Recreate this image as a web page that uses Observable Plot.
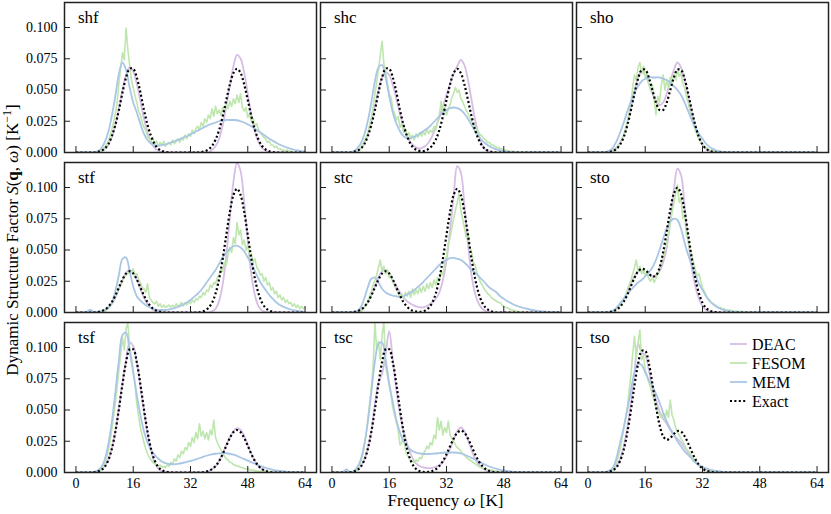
<!DOCTYPE html>
<html><head><meta charset="utf-8">
<script src="https://cdn.jsdelivr.net/npm/d3@7"></script>
<script src="https://cdn.jsdelivr.net/npm/@observablehq/plot@0.6"></script>
<style>body{margin:0;background:#fff}</style>
</head><body><div id="chart"></div>
<script>
// ---- categories / ticks ----
const panelNames = ["shf","shc","sho","stf","stc","sto","tsf","tsc","tso"];
const seriesNames = ["DEAC","FESOM","MEM","Exact"];
const xTicks = [0, 16, 32, 48, 64];
const yTicks = [0, 0.025, 0.05, 0.075, 0.1];
// smooth series: omega = 0..64 step 1 ; FESOM: omega = 0..64 step 0.5
const omegaCoarse = d3.range(0, 65, 1);
const omegaFine = d3.range(0, 129).map(i => i / 2);

// ---- shf ----
const exactShf = [0,0,0,0,0,0,.0005,.0012, .003,.0065,.013,.022,.034,.048,.060,.067, .067,.060,.048,.034,.022,.013,.0065,.003, .0012,.0005,0,0,0,0,0,0, 0,0,0,.0003,.001,.0024,.0052,.0103, .018,.029,.042,.0544,.0636,.067,.0636,.0544, .042,.029,.018,.0103,.0052,.0024,.001,.0003, 0,0,0,0,0,0,0,0, 0];
const deacShf = [0,0,0,0,0,0,0,.001, .0025,.006,.012,.022,.035,.050,.062,.068, .065,.055,.041,.027,.016,.008,.0036,.0014, .0005,0,0,0,0,0,0,0, 0,0,0,0,0,0,.002,.005, .011,.022,.037,.054,.069,.078,.075,.064, .047,.030,.017,.0084,.0036,.0014,.0005,0, 0,0,0,0,0,0,0,0, 0];
const memShf = [0,0,0,0,0,0,.001,.003, .008,.016,.029,.045,.063,.072,.066,.052, .040,.032,.023,.015,.010,.007,.006,.0055, .006,.0065,.0075,.0085,.0095,.0105,.012,.013, .0145,.016,.0175,.019,.0205,.022,.023,.024, .025,.0255,.026,.026,.026,.0258,.025,.024, .0225,.021,.019,.017,.015,.013,.011,.0093, .0077,.0062,.005,.0039,.003,.0022,.0016,.0011, .0008];
const fesomShf = [
0,0,0,0,0,0,0,0,
0,0,0,0,0,0,.001,.002,
.004,.006,.009,.013,.018,.024,.031,.040,
.055,.068,.080,.074,.0995,.082,.070,.058,
.052,.045,.040,.033,.030,.024,.020,.018,
.013,.011,.009,.012,.007,.009,.005,.008,
.006,.009,.005,.007,.008,.006,.010,.007,
.009,.011,.008,.012,.010,.014,.011,.015,
.013,.018,.015,.019,.021,.018,.024,.021,
.027,.024,.030,.027,.035,.029,.037,.031,
.034,.030,.036,.033,.038,.035,.041,.037,
.043,.039,.046,.040,.047,.036,.033,.036,
.028,.031,.025,.027,.021,.023,.018,.016,
.014,.012,.011,.008,.009,.006,.006,.004,
.005,.003,.003,.002,.002,.001,.002,.001,
.001,0,0,0,0,0,0,0,
0];

// ---- shc ----
const exactShc = [0,0,0,0,0,0,.0005,.0012, .003,.0065,.013,.022,.034,.048,.060,.067, .067,.060,.048,.034,.022,.013,.0066,.0032, .0016,.0012,.0014,.0029,.0055,.0103,.018,.029, .042,.0544,.0636,.067,.0636,.0544,.042,.029, .018,.0103,.0052,.0024,.001,.0003,0,0, 0,0,0,0,0,0,0,0, 0,0,0,0,0,0,0,0, 0];
const deacShc = [0,0,0,0,0,0,0,.001, .003,.007,.014,.024,.037,.050,.060,.064, .062,.054,.043,.031,.021,.013,.008,.005, .0035,.0035,.005,.008,.013,.020,.028,.037, .046,.055,.063,.069,.074,.070,.058,.042, .026,.014,.006,.002,.0005,0,0,0, 0,0,0,0,0,0,0,0, 0,0,0,0,0,0,0,0, 0];
const memShc = [0,0,0,0,0,0,.001,.003, .007,.014,.025,.040,.057,.068,.070,.060, .045,.032,.023,.017,.013,.0115,.0115,.0125, .014,.016,.018,.020,.023,.026,.029,.032, .034,.0355,.036,.0355,.034,.031,.027,.022, .017,.013,.0095,.007,.005,.0035,.0025,.0017, .0011,.0007,.0004,0,0,0,0,0, 0,0,0,0,0,0,0,0, 0];
const fesomShc = [
0,0,0,0,0,0,0,0,
0,0,0,0,0,0,.001,.002,
.003,.006,.009,.012,.016,.022,.028,.036,
.047,.056,.066,.078,.089,.071,.064,.055,
.047,.044,.035,.031,.026,.029,.020,.023,
.016,.019,.013,.016,.011,.014,.010,.015,
.012,.016,.013,.017,.014,.019,.015,.018,
.016,.021,.018,.024,.030,.041,.032,.036,
.030,.035,.038,.044,.047,.052,.048,.050,
.043,.041,.037,.034,.031,.028,.025,.022,
.021,.018,.016,.014,.013,.011,.010,.008,
.008,.006,.006,.005,.004,.004,.003,.003,
.002,.002,.0015,.001,.001,.001,.0008,0,
0,0,0,0,0,0,0,0,
0,0,0,0,0,0,0,0,
0,0,0,0,0,0,0,0,
0];

// ---- sho ----
const exactSho = [0,0,0,0,0,0,.0005,.0012, .0029,.0064,.0124,.0217,.0338,.0472,.059,.066, .0663,.060,.050,.040,.034,.034,.040,.050, .060,.0663,.066,.059,.0472,.0338,.0217,.0124, .0064,.0029,.0012,.0005,0,0,0,0, 0,0,0,0,0,0,0,0, 0,0,0,0,0,0,0,0, 0,0,0,0,0,0,0,0, 0];
const deacSho = [0,0,0,0,0,0,.001,.002, .004,.008,.014,.024,.036,.049,.060,.065, .062,.055,.047,.041,.038,.040,.047,.057, .066,.072,.068,.058,.045,.032,.021,.012, .006,.003,.0012,.0005,0,0,0,0, 0,0,0,0,0,0,0,0, 0,0,0,0,0,0,0,0, 0,0,0,0,0,0,0,0, 0];
const memSho = [0,0,0,0,0,.0005,.0015,.004, .009,.016,.024,.033,.041,.048,.053,.057, .059,.060,.060,.060,.060,.059,.058,.056, .053,.050,.046,.040,.033,.026,.020,.015, .011,.007,.0045,.0027,.0015,.0008,.0004,.0002, 0,0,0,0,0,0,0,0, 0,0,0,0,0,0,0,0, 0,0,0,0,0,0,0,0, 0];
const fesomSho = [
0,0,0,0,0,0,0,0,
0,0,0,0,0,0,.001,.002,
.003,.005,.007,.010,.014,.019,.025,.032,
.040,.052,.062,.058,.068,.072,.063,.069,
.060,.064,.055,.050,.054,.042,.030,.045,
.040,.054,.062,.050,.058,.052,.060,.055,
.063,.058,.066,.061,.064,.055,.052,.045,
.040,.033,.028,.022,.018,.014,.011,.009,
.007,.005,.004,.003,.002,.002,.0015,.001,
.001,.001,.0007,.0006,.0005,0,0,0,
0,0,0,0,0,0,0,0,
0,0,0,0,0,0,0,0,
0,0,0,0,0,0,0,0,
0,0,0,0,0,0,0,0,
0,0,0,0,0,0,0,0,
0,0,0,0,0,0,0,0,
0];

// ---- stf ----
const exactStf = [0,0,0,0,0,0,.0004,.001, .0022,.0045,.0082,.0136,.020,.0264,.0312,.033, .0312,.0264,.020,.0136,.0082,.0045,.0022,.001, .0004,0,0,0,0,0,0,0, 0,0,0,.0005,.0015,.0036,.0077,.0152, .027,.043,.062,.0804,.094,.099,.094,.0804, .062,.043,.027,.0152,.0077,.0036,.0015,.0005, 0,0,0,0,0,0,0,0, 0];
const deacStf = [0,0,0,0,0,0,0,.0005, .0014,.0034,.0069,.012,.019,.026,.032,.034, .032,.026,.019,.012,.0069,.0034,.0014,.0005, 0,0,0,0,0,0,0,0, 0,0,0,0,0,0,.0009,.003, .0093,.0227,.0456,.076,.1047,.1196,.113,.0883, .0572,.0307,.0136,.005,.0015,.0004,0,0, 0,0,0,0,0,0,0,0, 0];
const memStf = [0,0,0,.0005,.002,.0005,.0005,.001, .002,.004,.008,.017,.030,.043,.044,.033, .021,.013,.0095,.007,.005,.0035,.0025,.002, .002,.002,.0025,.003,.004,.005,.0065,.008, .010,.0125,.015,.018,.022,.026,.030,.034, .039,.044,.048,.051,.053,.0535,.052,.049, .044,.039,.033,.027,.022,.018,.014,.011, .008,.006,.0045,.0033,.0024,.0017,.0012,.0008, .0005];
const fesomStf = [
0,0,0,0,0,0,0,0,
0,0,0,0,0,0,0,0,
.001,.002,.003,.005,.007,.010,.013,.016,
.019,.022,.025,.028,.030,.031,.033,.032,
.035,.030,.031,.026,.024,.020,.019,.016,
.023,.012,.010,.008,.007,.009,.005,.007,
.004,.006,.004,.005,.006,.004,.006,.004,
.007,.005,.006,.008,.005,.008,.006,.009,
.007,.010,.008,.011,.010,.013,.012,.016,
.014,.018,.017,.022,.020,.024,.023,.028,
.030,.035,.033,.040,.038,.046,.052,.048,
.060,.055,.072,.062,.066,.054,.058,.050,
.054,.044,.047,.040,.043,.036,.034,.030,
.031,.025,.028,.022,.024,.018,.020,.015,
.017,.012,.014,.010,.012,.008,.010,.007,
.008,.005,.007,.004,.006,.003,.005,.003,
.004];

// ---- stc ----
const exactStc = [0,0,0,0,0,0,.0004,.001, .0022,.0045,.0082,.0136,.020,.0264,.0312,.033, .0312,.0264,.020,.0136,.0082,.0045,.0022,.001, .0006,.0006,.0015,.0036,.0077,.0152,.027,.043, .062,.0804,.094,.099,.094,.0804,.062,.043, .027,.0152,.0077,.0036,.0015,.0005,0,0, 0,0,0,0,0,0,0,0, 0,0,0,0,0,0,0,0, 0];
const deacStc = [0,0,0,0,0,0,.0005,.001, .002,.004,.008,.014,.021,.028,.033,.034, .031,.026,.021,.016,.012,.009,.007,.0055, .0045,.004,.0045,.006,.008,.011,.016,.026, .042,.066,.093,.117,.112,.086,.055,.030, .015,.007,.003,.001,.0004,0,0,0, 0,0,0,0,0,0,0,0, 0,0,0,0,0,0,0,0, 0];
const memStc = [0,0,0,0,0,0,0,.001, .004,.011,.020,.027,.028,.024,.019,.016, .0145,.0135,.013,.0125,.013,.0145,.016,.018, .0205,.023,.026,.029,.032,.035,.038,.0405, .042,.0435,.0437,.043,.042,.040,.037,.034, .032,.029,.026,.023,.020,.018,.016,.013, .011,.009,.0075,.006,.005,.004,.0033,.0026, .002,.0015,.0011,.0008,.0006,.0004,.0003,.0002, .0001];
const fesomStc = [
0,0,0,0,0,0,0,0,
0,0,0,0,0,0,0,0,
.001,.002,.004,.006,.009,.013,.017,.022,
.026,.030,.036,.042,.033,.037,.031,.034,
.028,.030,.024,.021,.018,.016,.012,.015,
.011,.016,.013,.017,.012,.019,.014,.018,
.015,.020,.016,.021,.017,.023,.019,.024,
.020,.026,.022,.028,.025,.033,.030,.040,
.045,.055,.060,.068,.075,.082,.088,.095,
.082,.075,.068,.060,.064,.052,.048,.040,
.038,.032,.028,.024,.022,.019,.017,.015,
.014,.012,.011,.010,.009,.008,.008,.006,
.005,.004,.004,.003,.002,.002,.0015,.001,
.001,0,0,0,0,0,0,0,
0,0,0,0,0,0,0,0,
0,0,0,0,0,0,0,0,
0];

// ---- sto ----
const exactSto = [0,0,0,0,0,0,.0004,.001, .0023,.0047,.0086,.0142,.021,.0277,.0328,.035, .0341,.0312,.0287,.0296,.0357,.0481,.0648,.082, .0951,.0999,.0947,.081,.0625,.0434,.0271,.0154, .0078,.0036,.0015,.0005,.0002,0,0,0, 0,0,0,0,0,0,0,0, 0,0,0,0,0,0,0,0, 0,0,0,0,0,0,0,0, 0];
const deacSto = [0,0,0,0,0,0,.0005,.001, .003,.006,.010,.016,.023,.029,.033,.033, .031,.030,.029,.030,.033,.040,.052,.073, .098,.115,.110,.085,.058,.036,.021,.011, .005,.002,.0008,.0003,0,0,0,0, 0,0,0,0,0,0,0,0, 0,0,0,0,0,0,0,0, 0,0,0,0,0,0,0,0, 0];
const memSto = [0,0,0,0,0,0,.0005,.0015, .004,.0075,.011,.015,.018,.021,.024,.026, .029,.032,.036,.042,.050,.059,.067,.073, .075,.074,.067,.056,.046,.038,.030,.023, .018,.013,.009,.0065,.0045,.003,.002,.0013, .0008,.0005,.0003,.0002,0,0,0,0, 0,0,0,0,0,0,0,0, 0,0,0,0,0,0,0,0, 0];
const fesomSto = [
0,0,0,0,0,0,0,0,
0,0,0,0,0,0,.001,.002,
.003,.004,.006,.008,.011,.014,.018,.022,
.026,.031,.036,.042,.033,.037,.031,.035,
.029,.032,.027,.025,.028,.024,.027,.031,
.035,.040,.044,.050,.056,.064,.071,.080,
.088,.095,.102,.088,.092,.075,.078,.062,
.058,.050,.046,.040,.034,.029,.031,.025,
.020,.017,.014,.011,.010,.008,.007,.006,
.005,.004,.004,.003,.003,.002,.002,.002,
.0015,.001,.001,.001,.001,.0008,.0007,.0006,
.0005,0,0,0,0,0,0,0,
0,0,0,0,0,0,0,0,
0,0,0,0,0,0,0,0,
0,0,0,0,0,0,0,0,
0,0,0,0,0,0,0,0,
0];

// ---- tsf ----
const exactTsf = [0,0,0,0,0,.0002,.0007,.0018, .0044,.0096,.0186,.0325,.0506,.0707,.0882,.0986, .0986,.0882,.0707,.0506,.0325,.0186,.0096,.0044, .0018,.0007,.0002,0,0,0,0,0, 0,0,0,0,.0005,.0012,.0027,.0052, .0092,.0148,.0213,.0276,.0323,.034,.0323,.0276, .0213,.0148,.0092,.0052,.0027,.0012,.0005,0, 0,0,0,0,0,0,0,0, 0];
const deacTsf = [0,0,0,0,0,0,.001,.002, .005,.010,.019,.033,.052,.072,.090,.104, .101,.088,.069,.049,.031,.017,.008,.003, .001,.0003,0,0,0,0,0,0, 0,0,0,0,0,.001,.0025,.005, .009,.015,.022,.028,.033,.0355,.034,.029, .022,.015,.009,.005,.0025,.001,.0004,0, 0,0,0,0,0,0,0,0, 0];
const memTsf = [0,0,0,0,0,.0005,.0015,.004, .010,.022,.040,.064,.090,.110,.112,.097, .080,.062,.046,.033,.024,.018,.014,.011, .0088,.0075,.0068,.0066,.0067,.0072,.0078,.0085, .0093,.010,.011,.012,.013,.0138,.0145,.015, .0153,.0155,.0154,.015,.0143,.0133,.012,.0107, .0095,.0082,.007,.0058,.0047,.0037,.0029,.0022, .0016,.0012,.0009,.0006,.0004,.0003,.0002,.0001, 0];
const fesomTsf = [
0,0,0,0,0,0,0,0,
0,0,0,0,0,.001,.002,.004,
.007,.011,.017,.025,.034,.045,.056,.068,
.082,.095,.108,.098,.115,.120,.100,.092,
.082,.070,.055,.045,.036,.030,.024,.019,
.015,.012,.010,.008,.007,.006,.005,.006,
.004,.005,.004,.006,.005,.008,.007,.011,
.009,.014,.012,.017,.015,.020,.018,.024,
.021,.028,.024,.032,.027,.039,.029,.033,
.027,.032,.026,.034,.030,.042,.028,.024,
.021,.018,.015,.013,.011,.010,.008,.008,
.006,.006,.005,.005,.004,.004,.003,.003,
.003,.002,.002,.002,.0015,.001,.001,.001,
.001,.001,.0008,.0006,.0005,0,0,0,
0,0,0,0,0,0,0,0,
0,0,0,0,0,0,0,0,
0];

// ---- tsc ----
const exactTsc = [0,0,0,0,0,.0002,.0007,.0018, .0044,.0096,.0186,.0325,.0506,.0707,.0882,.0986, .0986,.0882,.0707,.0506,.0325,.0186,.0096,.0044, .0018,.0007,.0004,.0005,.0012,.0026,.0052,.0091, .0146,.021,.0272,.0318,.0335,.0318,.0272,.021, .0146,.0091,.0052,.0026,.0012,.0005,.0002,0, 0,0,0,0,0,0,0,0, 0,0,0,0,0,0,0,0, 0];
const deacTsc = [0,0,0,0,0,0,.001,.002, .005,.010,.019,.033,.055,.072,.079,.095, .113,.090,.066,.047,.033,.023,.015,.009, .006,.0045,.0038,.0035,.0037,.0045,.006,.0085, .013,.019,.026,.033,.036,.033,.026,.018, .011,.0065,.0035,.0017,.0008,.0003,0,0, 0,0,0,0,0,0,0,0, 0,0,0,0,0,0,0,0, 0];
const memTsc = [0,0,0,.0003,.0025,.0005,.001,.004, .010,.022,.040,.064,.089,.103,.104,.090, .071,.056,.042,.032,.025,.021,.018,.0165, .0155,.015,.0148,.0148,.015,.0152,.0155,.0158, .016,.016,.016,.0158,.0152,.0143,.013,.0117, .0103,.0088,.0073,.006,.0048,.0038,.0029,.0022, .0016,.0012,.0008,.0005,.0003,.0002,0,0, 0,0,0,0,0,0,0,0, 0];
const fesomTsc = [
0,0,0,0,0,0,0,0,
0,0,0,0,0,.001,.002,.004,
.008,.013,.020,.030,.042,.055,.068,.085,
.120,.098,.105,.090,.110,.120,.085,.078,
.070,.062,.052,.046,.040,.034,.022,.024,
.030,.018,.014,.012,.010,.009,.008,.010,
.009,.012,.011,.015,.017,.021,.019,.024,
.022,.030,.027,.044,.034,.041,.030,.036,
.032,.041,.030,.027,.025,.022,.020,.019,
.017,.015,.014,.012,.011,.010,.009,.008,
.007,.006,.005,.004,.004,.003,.003,.002,
.002,.002,.0015,.001,.001,.0005,0,0,
0,0,0,0,0,0,0,0,
0,0,0,0,0,0,0,0,
0,0,0,0,0,0,0,0,
0,0,0,0,0,0,0,0,
0];

// ---- tso ----
const exactTso = [0,0,0,0,0,0,.0007,.0018, .0043,.0095,.0183,.032,.0498,.0696,.0869,.0972, .0973,.0875,.0711,.053,.0381,.029,.0262,.0276, .0309,.0332,.0327,.0291,.0233,.0167,.0107,.0061, .0032,.0015,.0006,.0002,0,0,0,0, 0,0,0,0,0,0,0,0, 0,0,0,0,0,0,0,0, 0,0,0,0,0,0,0,0, 0];
const deacTso = [0,0,0,0,0,0,.001,.002, .005,.011,.021,.036,.056,.080,.103,.096, .094,.082,.068,.058,.049,.043,.039,.034, .030,.027,.024,.020,.016,.012,.0085,.0058, .0037,.0022,.0012,.0006,.0003,0,0,0, 0,0,0,0,0,0,0,0, 0,0,0,0,0,0,0,0, 0,0,0,0,0,0,0,0, 0];
const memTso = [0,0,0,0,0,.0005,.0015,.004, .012,.024,.036,.050,.066,.080,.087,.086, .080,.074,.069,.063,.056,.048,.041,.035, .030,.025,.021,.017,.014,.011,.008,.006, .0045,.0033,.0024,.0017,.0012,.0008,.0005,.0003, .0002,0,0,0,0,0,0,0, 0,0,0,0,0,0,0,0, 0,0,0,0,0,0,0,0, 0];
const fesomTso = [
0,0,0,0,0,0,0,0,
0,0,0,0,0,.001,.002,.004,
.008,.013,.019,.027,.035,.044,.052,.065,
.078,.095,.109,.092,.104,.114,.090,.094,
.082,.078,.072,.068,.062,.058,.052,.048,
.046,.044,.048,.042,.050,.044,.058,.046,
.042,.036,.032,.030,.027,.025,.022,.019,
.017,.015,.013,.011,.009,.008,.006,.005,
.004,.003,.003,.002,.002,.0015,.001,.001,
.0007,.0006,.0005,0,0,0,0,0,
0,0,0,0,0,0,0,0,
0,0,0,0,0,0,0,0,
0,0,0,0,0,0,0,0,
0,0,0,0,0,0,0,0,
0,0,0,0,0,0,0,0,
0,0,0,0,0,0,0,0,
0];

const seriesColors = {DEAC: "#d6bee4", FESOM: "#bee6ae", MEM: "#a9c7e5", Exact: "#000000"};

// ---- build tables for the library ----
const deacByPanel = [deacShf, deacShc, deacSho, deacStf, deacStc, deacSto, deacTsf, deacTsc, deacTso];
const fesomByPanel = [fesomShf, fesomShc, fesomSho, fesomStf, fesomStc, fesomSto, fesomTsf, fesomTsc, fesomTso];
const memByPanel = [memShf, memShc, memSho, memStf, memStc, memSto, memTsf, memTsc, memTso];
const exactByPanel = [exactShf, exactShc, exactSho, exactStf, exactStc, exactSto, exactTsf, exactTsc, exactTso];

function table(byPanel, grid) {
  const out = [];
  byPanel.forEach((vals, p) => {
    vals.forEach((v, i) => out.push({panel: panelNames[p], col: p % 3, row: Math.floor(p / 3), omega: grid[i], value: v}));
  });
  return out;
}
const deacRows = table(deacByPanel, omegaCoarse);
const fesomRows = table(fesomByPanel, omegaFine);
const memRows = table(memByPanel, omegaCoarse);
const exactRows = table(exactByPanel, omegaCoarse);
const panelRows = panelNames.map((name, p) => ({panel: name, col: p % 3, row: Math.floor(p / 3)}));

const FONT = "'Liberation Serif', 'DejaVu Serif', serif";
const common = {x: "omega", y: "value", fx: "col", fy: "row", clip: true};
const DOTS = "2,2.4";

const chart = Plot.plot({
  width: 831, height: 514,
  marginLeft: 63, marginRight: 3, marginTop: 2, marginBottom: 42,
  style: {fontFamily: FONT, fontSize: "14px", background: "#fff", color: "#000"},
  x: {domain: [-3.2, 67.2]},
  y: {domain: [0, 0.12]},
  fx: {domain: [0, 1, 2], paddingInner: 0.016, paddingOuter: 0, axis: null},
  fy: {domain: [0, 1, 2], paddingInner: 0.0625, paddingOuter: 0, axis: null},
  marks: [
    Plot.line(deacRows, {...common, stroke: seriesColors.DEAC, strokeWidth: 1.8, curve: "catmull-rom"}),
    Plot.line(fesomRows, {...common, stroke: seriesColors.FESOM, strokeWidth: 1.6, curve: "linear"}),
    Plot.line(memRows, {...common, stroke: seriesColors.MEM, strokeWidth: 1.8, curve: "catmull-rom"}),
    Plot.line(exactRows, {...common, stroke: seriesColors.Exact, strokeWidth: 2.2, strokeDasharray: DOTS, strokeLinecap: "butt", strokeLinejoin: "miter", curve: "catmull-rom"}),
    Plot.tickX(xTicks, {x: d => d, insetTop: 144, stroke: "#222", strokeWidth: 1}),
    Plot.tickY(yTicks, {y: d => d, insetRight: 246, stroke: "#222", strokeWidth: 1}),
    Plot.frame({stroke: "#222", strokeWidth: 1.5}),
    Plot.axisX(xTicks, {tickSize: 0, tickPadding: 6, facetAnchor: "bottom", label: null, fontSize: 14}),
    Plot.axisY(yTicks, {tickSize: 0, tickPadding: 7, tickFormat: d3.format(".3f"), facetAnchor: "left", label: null, fontSize: 14}),
    Plot.text(panelRows, {fx: "col", fy: "row", text: "panel", frameAnchor: "top-left", dx: 13.5, dy: 8.5, fontSize: 17})
  ]
});
document.getElementById("chart").appendChild(chart);

// ---- axis titles and legend ----
const svg = d3.select(chart);
const yl = svg.append("text")
  .attr("transform", "translate(18,240) rotate(-90)")
  .attr("text-anchor", "middle").attr("font-family", FONT).attr("font-size", 17).attr("fill", "#000");
yl.append("tspan").text("Dynamic Structure Factor ");
yl.append("tspan").attr("font-style", "italic").text("S");
yl.append("tspan").text("(");
yl.append("tspan").attr("font-weight", "bold").text("q");
yl.append("tspan").text(", ");
yl.append("tspan").attr("font-style", "italic").text("ω");
yl.append("tspan").text(") [K");
yl.append("tspan").attr("baseline-shift", "super").attr("font-size", 12).text("−1");
yl.append("tspan").text("]");

const xl = svg.append("text")
  .attr("x", 445.5).attr("y", 506)
  .attr("text-anchor", "middle").attr("font-family", FONT).attr("font-size", 17).attr("fill", "#000");
xl.append("tspan").text("Frequency ");
xl.append("tspan").attr("font-style", "italic").text("ω");
xl.append("tspan").text(" [K]");

const legendY = [344, 363, 382, 401];
const lg = svg.append("g");
seriesNames.forEach((s, i) => {
  const line = lg.append("line").attr("x1", 730).attr("x2", 747).attr("y1", legendY[i]).attr("y2", legendY[i])
    .attr("stroke", seriesColors[s]).attr("stroke-width", s === "Exact" ? 2.2 : 1.8);
  if (s === "Exact") line.attr("stroke-dasharray", DOTS).attr("stroke-linecap", "butt");
  lg.append("text").attr("x", 752).attr("y", legendY[i]).attr("dy", "0.35em")
    .attr("text-anchor", "start")
    .attr("font-family", FONT).attr("font-size", 16).attr("fill", "#000").text(s);
});
</script></body></html>
